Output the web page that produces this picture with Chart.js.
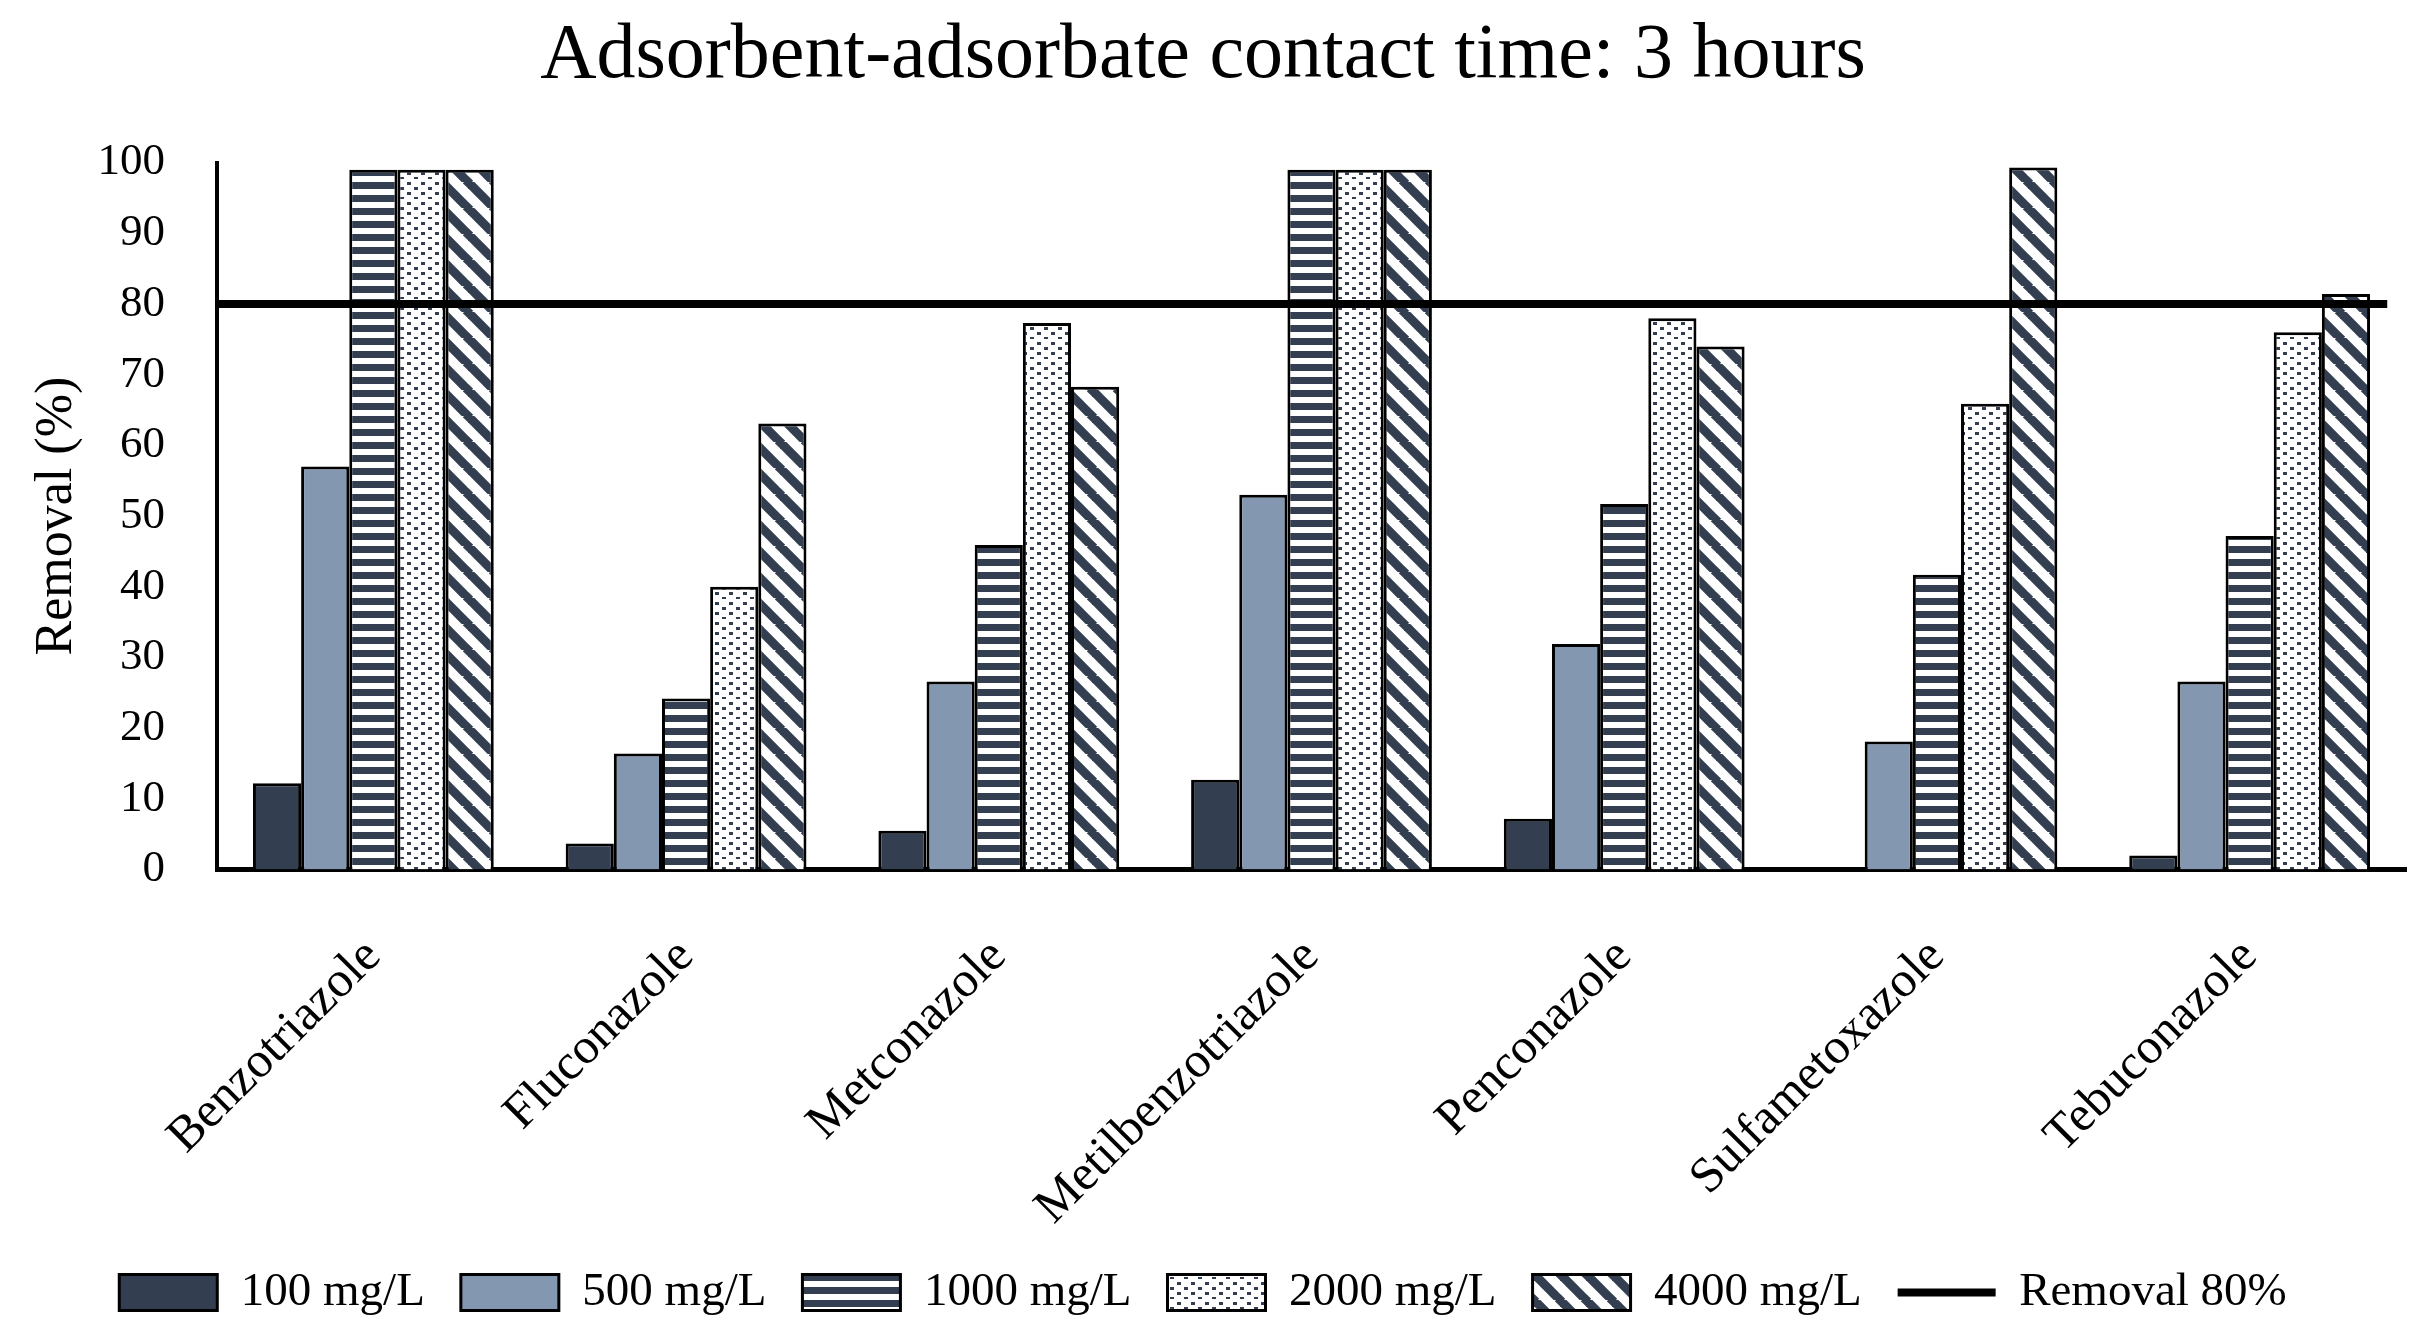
<!DOCTYPE html>
<html>
<head>
<meta charset="utf-8">
<script src="https://cdn.jsdelivr.net/npm/chart.js@4"></script>
<style>
  html, body { margin: 0; padding: 0; background: #fff; }
  #wrap { width: 2430px; height: 1336px; }
</style>
</head>
<body>
<div id="wrap"><canvas id="chart"></canvas></div>
<script>
// data
const categories = ['Benzotriazole', 'Fluconazole', 'Metconazole', 'Metilbenzotriazole', 'Penconazole', 'Sulfametoxazole', 'Tebuconazole'];
const seriesNames = ['100 mg/L', '500 mg/L', '1000 mg/L', '2000 mg/L', '4000 mg/L'];
const conc100 = [12.2, 3.7, 5.5, 12.7, 7.2, 0, 2.0];
const conc500 = [57, 16.4, 26.6, 53, 31.9, 18.1, 26.6];
const conc1000 = [99, 24.2, 45.9, 99, 51.7, 41.7, 47.2];
const conc2000 = [99, 40, 77.3, 99, 78, 65.9, 76];
const conc4000 = [99, 63.1, 68.3, 99, 74, 99.3, 81.4];
const removalLabel = 'Removal 80%';
const removalX = [-0.5, 6.44];
const removalY = [80, 80];

const dark = '#333f50';
const grey = '#8497b0';
const FONT = 'Liberation Serif';

function makePattern(w, h, draw) {
  const c = document.createElement('canvas');
  c.width = w; c.height = h;
  const g = c.getContext('2d');
  g.fillStyle = '#fff';
  g.fillRect(0, 0, w, h);
  draw(g);
  return g.createPattern(c, 'repeat');
}

const stripes = makePattern(8, 13, g => {
  g.fillStyle = dark;
  g.fillRect(0, 0, 8, 7);
});

const dots = makePattern(14, 20, g => {
  g.fillStyle = dark;
  g.fillRect(1, 2, 4, 3);
  g.fillRect(8, 7, 4, 3);
  g.fillRect(1, 12, 4, 3);
  g.fillRect(8, 17, 4, 2);
});

const diag = makePattern(26, 26, g => {
  g.strokeStyle = dark;
  g.lineWidth = 9;
  for (let k = -1; k <= 1; k++) {
    g.beginPath();
    g.moveTo(k * 26 - 2, -2);
    g.lineTo(k * 26 + 28, 28);
    g.stroke();
  }
});

const fills = [dark, grey, stripes, dots, diag];
const values = [conc100, conc500, conc1000, conc2000, conc4000];

// bars sit on a linear x axis at positions 0..6 so the 80% line can run edge to edge
const datasets = seriesNames.map((name, i) => ({
  label: name,
  data: values[i].map((v, j) => ({ x: j, y: v })),
  backgroundColor: fills[i],
  borderColor: '#000',
  borderWidth: 3,
  borderSkipped: 'bottom',
  categoryPercentage: 0.77,
  barPercentage: 1.0
}));

datasets.push({
  type: 'line',
  label: removalLabel,
  data: removalX.map((x, i) => ({ x: x, y: removalY[i] })),
  borderColor: '#000',
  backgroundColor: '#000',
  borderWidth: 8,
  pointRadius: 0,
  order: -1
});

const ctx = document.getElementById('chart').getContext('2d');
const chart = new Chart(ctx, {
  type: 'bar',
  data: {
    datasets: datasets
  },
  options: {
    responsive: true,
    maintainAspectRatio: false,
    animation: false,
    devicePixelRatio: 1,
    layout: {
      padding: { left: 0, right: 24, top: 0, bottom: 10 }
    },
    scales: {
      x: {
        type: 'linear',
        offset: false,
        min: -0.5,
        max: 6.5,
        grid: { display: false, offset: false },
        border: { display: true, color: '#000', width: 5 },
        afterBuildTicks: (scale) => {
          scale.ticks = categories.map((c, i) => ({ value: i }));
        },
        ticks: {
          color: '#000',
          font: { family: FONT, size: 50 },
          minRotation: 45,
          maxRotation: 45,
          padding: 50,
          autoSkip: false,
          callback: (v) => categories[v]
        },
        afterFit: (scale) => { scale.height = scale.height - 54; }
      },
      y: {
        min: 0,
        max: 100,
        grid: { display: false },
        border: { display: true, color: '#000', width: 4 },
        ticks: {
          stepSize: 10,
          color: '#000',
          font: { family: FONT, size: 45 },
          padding: 44
        },
        title: {
          display: true,
          text: 'Removal (%)',
          color: '#000',
          font: { family: FONT, size: 52 },
          padding: { top: 26, bottom: 0 }
        },
        afterFit: (scale) => { scale.width = 217; }
      }
    },
    plugins: {
      title: {
        display: true,
        text: 'Adsorbent-adsorbate contact time: 3 hours',
        color: '#000',
        font: { family: FONT, size: 78, weight: 'normal' },
        padding: { top: 10, bottom: 59 }
      },
      legend: {
        position: 'bottom',
        labels: {
          color: '#000',
          font: { family: FONT, size: 47 },
          usePointStyle: true,
          pointStyleWidth: 98,
          boxHeight: 36,
          padding: 36,
          sort: (a, b) => a.datasetIndex - b.datasetIndex,
          generateLabels: (chart) => {
            const items = Chart.defaults.plugins.legend.labels.generateLabels(chart);
            items.forEach(it => {
              it.pointStyle = it.datasetIndex === 5 ? 'line' : 'rect';
            });
            return items;
          }
        }
      },
      tooltip: { enabled: false }
    }
  }
});
</script>
</body>
</html>
